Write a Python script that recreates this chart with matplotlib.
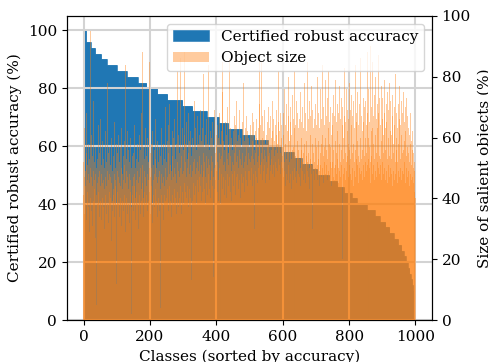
import numpy as np
import matplotlib.pyplot as plt

plt.rcParams['font.family'] = 'DejaVu Serif'
plt.rcParams['font.size'] = 11

# certified robust accuracy (%), as (level, number of classes) runs, sorted
acc_levels = [100, 96, 94, 92, 90, 88, 86, 84, 82, 80, 78, 76, 74, 72, 70, 68, 66, 64, 62, 60,
              58, 56, 54, 52, 50, 48, 46, 44, 42, 40, 38, 36, 34, 32, 30, 28, 26, 24,
              22, 20, 18, 16, 14, 12, 10, 8, 6, 4, 2]
acc_counts = [8, 14, 13, 18, 17, 30, 30, 33, 27, 33, 30, 45, 30, 43, 36, 29, 41, 38, 41, 39,
              38, 25, 32, 15, 35, 25, 20, 23, 15, 30, 25, 15, 17, 12, 13, 13, 10, 7,
              6, 6, 5, 4, 4, 3, 2, 2, 1, 1, 1]
accuracy = np.repeat(acc_levels, acc_counts)

# size of salient objects (%) per class, same order
object_size = [
    52, 41, 47, 63, 35, 49, 44, 38, 55, 68, 33, 46, 51, 42, 58, 37, 48, 53, 29, 45, 95, 40, 50, 61, 36,
    47, 54, 31, 44, 49, 39, 72, 43, 52, 46, 27, 48, 57, 41, 50, 5, 45, 53, 38, 64, 42, 47, 55, 34, 49,
    44, 39, 66, 48, 33, 51, 45, 40, 59, 37, 46, 53, 30, 43, 50, 41, 62, 47, 35, 52, 44, 49, 78, 38, 46,
    55, 32, 48, 42, 57, 40, 47, 51, 26, 45, 60, 39, 49, 36, 54, 43, 41, 65, 48, 34, 50, 44, 46, 58, 38,
    12, 49, 42, 55, 38, 47, 61, 34, 45, 52, 40, 57, 44, 31, 50, 63, 39, 48, 43, 54, 36, 46, 59, 41, 51,
    29, 45, 84, 40, 49, 53, 35, 47, 62, 43, 38, 56, 48, 32, 52, 42, 46, 60, 37, 2, 50, 44, 54, 41, 47,
    55, 36, 48, 44, 64, 40, 50, 33, 53, 46, 42, 58, 38, 49, 52, 30, 45, 61, 41, 47, 56, 35, 50, 43, 68,
    39, 51, 88, 45, 40, 57, 34, 49, 53, 42, 63, 38, 47, 31, 54, 44, 41, 60, 48, 36, 52, 46, 39, 85, 50,
    42, 55, 47, 35, 58, 44, 50, 38, 62, 32, 51, 46, 41, 56, 48, 37, 53, 43, 66, 39, 47, 50, 34, 59, 45,
    40, 52, 47, 36, 57, 49, 43, 4, 54, 41, 48, 63, 38, 51, 45, 33, 58, 47, 41, 53, 44, 70, 39, 50, 46,
    52, 40, 59, 47, 43, 64, 36, 55, 48, 44, 71, 39, 51, 57, 34, 49, 46, 62, 41, 54, 47, 38, 60, 50, 43,
    66, 40, 53, 48, 35, 58, 45, 82, 42, 52, 49, 37, 61, 47, 55, 40, 86, 44, 50, 57, 35, 54, 48, 63, 42,
    49, 56, 38, 61, 45, 88, 52, 42, 58, 47, 65, 40, 53, 50, 44, 68, 37, 55, 48, 59, 43, 51, 62, 40, 54,
    13, 47, 60, 49, 39, 57, 52, 45, 72, 41, 53, 48, 63, 44, 56, 50, 38, 67, 46, 52, 58, 42, 49, 61, 47,
    54, 44, 69, 48, 39, 59, 51, 47, 63, 42, 55, 49, 81, 43, 57, 52, 38, 61, 47, 54, 45, 66, 50, 41, 58,
    53, 48, 84, 43, 56, 51, 46, 62, 40, 54, 49, 60, 44, 52, 65, 14, 57, 47, 50, 69, 43, 55, 51, 46, 61,
    49, 57, 42, 64, 52, 46, 60, 39, 55, 50, 68, 45, 53, 58, 38, 62, 48, 54, 75, 43, 85, 51, 47, 59, 41,
    56, 52, 65, 46, 49, 61, 40, 57, 53, 48, 70, 44, 55, 51, 86, 47, 58, 42, 63, 54, 49, 60, 39, 52, 56,
    48, 62, 51, 44, 67, 55, 49, 58, 41, 64, 52, 47, 72, 48, 54, 59, 43, 61, 50, 56, 46, 69, 53, 40, 60,
    51, 57, 48, 65, 45, 55, 50, 78, 47, 52, 59, 42, 63, 54, 49, 67, 46, 57, 51, 44, 62, 55, 49, 60, 53,
    57, 49, 64, 52, 46, 61, 54, 50, 68, 44, 59, 53, 48, 65, 51, 56, 30, 62, 49, 55, 60, 47, 66, 52, 58,
    45, 63, 54, 50, 71, 57, 86, 51, 48, 64, 55, 85, 52, 60, 46, 67, 53, 49, 62, 56, 51, 69, 45, 58, 54,
    61, 52, 48, 65, 57, 50, 70, 54, 59, 46, 63, 55, 51, 67, 49, 60, 56, 53, 72, 48, 62, 57, 51, 66, 54,
    59, 47, 64, 56, 52, 69, 50, 61, 55, 58, 49, 65, 53, 82, 57, 51, 62, 48, 68, 55, 60, 52, 64, 50, 57,
    54, 68, 47, 61, 52, 76, 49, 64, 44, 58, 53, 71, 48, 62, 55, 46, 67, 51, 80, 45, 59, 52, 65, 48, 70,
    53, 43, 61, 56, 74, 49, 66, 46, 57, 52, 63, 50, 82, 47, 64, 54, 49, 72, 45, 59, 53, 68, 48, 56, 63,
    47, 66, 53, 50, 75, 44, 60, 56, 65, 49, 70, 52, 46, 63, 55, 78, 48, 58, 51, 68, 45, 62, 54, 59, 49,
    85, 52, 47, 66, 55, 50, 72, 43, 61, 53, 67, 48, 77, 51, 58, 30, 69, 49, 63, 55, 46, 66, 52, 60, 50,
    71, 48, 57, 64, 51, 80, 46, 59, 53, 68, 49, 63, 44, 76, 55, 51, 66, 47, 58, 84, 50, 61, 54, 70, 45,
    64, 52, 57, 79, 48, 60, 67, 51, 56, 46, 73, 53, 63, 49, 82, 47, 58, 65, 52, 57, 70, 44, 61, 50, 68,
    52, 64, 47, 74, 56, 50, 67, 46, 59, 79, 51, 65, 55, 48, 71, 53, 62, 45, 68, 50, 58, 77, 49, 66, 52,
    47, 73, 56, 51, 64, 20, 70, 53, 60, 48, 83, 50, 67, 55, 46, 65, 52, 76, 49, 62, 54, 69, 47, 58, 66,
    51, 78, 56, 48, 69, 53, 64, 46, 74, 55, 50, 67, 58, 44, 72, 52, 63, 49, 84, 56, 47, 68, 53, 65, 51,
    59, 75, 45, 64, 54, 50, 71, 52, 60, 48, 86, 53, 67, 49, 62, 56, 46, 73, 51, 65, 54, 70, 47, 60, 52,
    72, 49, 64, 55, 88, 51, 68, 47, 60, 53, 76, 50, 65, 57, 45, 90, 52, 62, 54, 70, 48, 63, 85, 51, 58,
    67, 46, 74, 53, 61, 49, 80, 55, 66, 47, 71, 52, 63, 87, 50, 68, 54, 48, 73, 53, 64, 51, 77, 46, 59,
    66, 52, 73, 48, 61, 55, 79, 50, 68, 46, 63, 56, 71, 49, 65, 45, 75, 53, 60, 51, 69, 47, 78, 54, 62,
    50, 72, 48, 61, 53, 67, 44, 74, 55, 58, 49, 70, 46, 64, 52, 81, 48, 60, 56, 68, 45, 63, 52, 71, 49,
    58, 66, 47, 77, 53, 64, 50, 72, 46, 61, 55, 68, 49, 75, 56, 48, 65, 52, 59, 70, 45, 62, 54, 73, 50,
    57, 47, 67, 55, 49, 63, 44, 61, 52, 58, 48, 68, 46, 59, 51, 62, 47, 56, 50, 45, 55, 49, 42, 52, 40,
]

classes = np.arange(len(accuracy))

fig, ax1 = plt.subplots(figsize=(4.88, 3.62), dpi=100)
fig.subplots_adjust(left=0.137, right=0.885, bottom=0.116, top=0.956)

b1 = ax1.bar(classes, accuracy, width=1, color='tab:blue', edgecolor='tab:blue', linewidth=0.4)
ax1.grid(True, color='lightgray', linewidth=1.5)
ax1.set_xlabel('Classes (sorted by accuracy)')
ax1.set_ylabel('Certified robust accuracy (%)')
ax1.set_xlim(-50.5, 1049.5)

ax2 = ax1.twinx()
# wider bars overlap their neighbours, giving the stacked-alpha look of the original
b2 = ax2.bar(classes, object_size, width=3, color='tab:orange', alpha=0.4)
ax2.set_ylim(0, 100)
ax2.set_ylabel('Size of salient objects (%)', labelpad=5)

ax2.legend([b1, b2], ['Certified robust accuracy', 'Object size'], loc='upper right',
           handlelength=2.3)

plt.savefig('out.png')
